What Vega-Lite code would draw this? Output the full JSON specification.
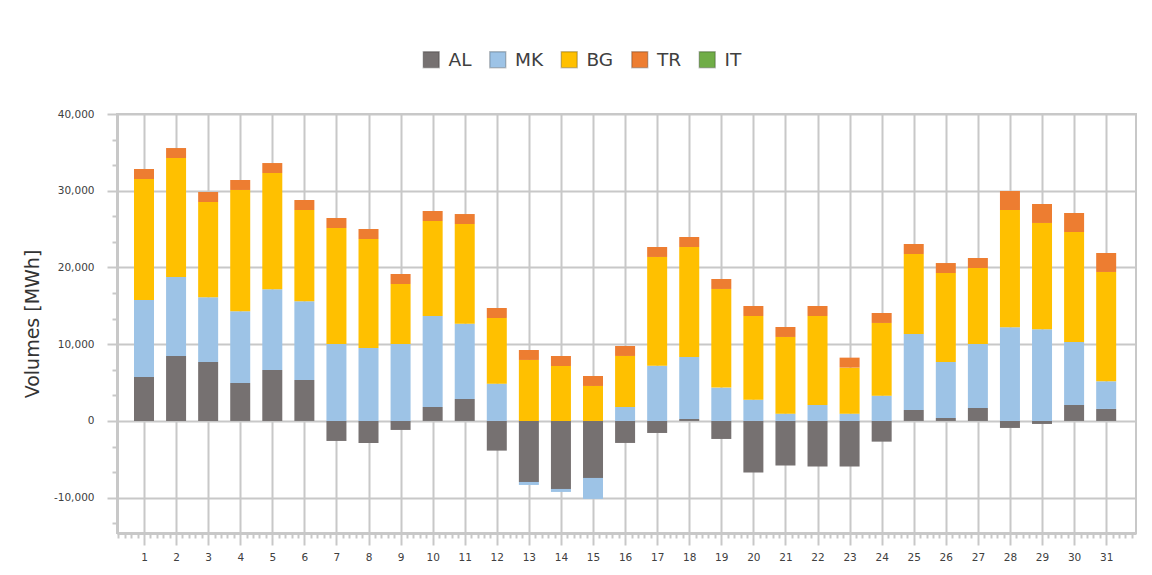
{
  "$schema": "https://vega.github.io/schema/vega-lite/v6.json",
  "width": 1019,
  "height": 419,
  "autosize": {"type": "none"},
  "padding": {"left": 117, "top": 114, "right": 16, "bottom": 42},
  "background": "white",
  "config": {
    "font": "DejaVu Sans",
    "view": {"stroke": "#c8c8c8", "strokeWidth": 2}
  },
  "data": {
    "values": [
      {"day": 1, "series": "AL", "value": 5730}, {"day": 1, "series": "MK", "value": 10035}, {"day": 1, "series": "BG", "value": 15765}, {"day": 1, "series": "TR", "value": 1300},
      {"day": 2, "series": "AL", "value": 8470}, {"day": 2, "series": "MK", "value": 10290}, {"day": 2, "series": "BG", "value": 15505}, {"day": 2, "series": "TR", "value": 1300},
      {"day": 3, "series": "AL", "value": 7690}, {"day": 3, "series": "MK", "value": 8425}, {"day": 3, "series": "BG", "value": 12420}, {"day": 3, "series": "TR", "value": 1300},
      {"day": 4, "series": "AL", "value": 4950}, {"day": 4, "series": "MK", "value": 9340}, {"day": 4, "series": "BG", "value": 15810}, {"day": 4, "series": "TR", "value": 1300},
      {"day": 5, "series": "AL", "value": 6645}, {"day": 5, "series": "MK", "value": 10510}, {"day": 5, "series": "BG", "value": 15155}, {"day": 5, "series": "TR", "value": 1300},
      {"day": 6, "series": "AL", "value": 5340}, {"day": 6, "series": "MK", "value": 10250}, {"day": 6, "series": "BG", "value": 11900}, {"day": 6, "series": "TR", "value": 1300},
      {"day": 7, "series": "AL", "value": -2605}, {"day": 7, "series": "MK", "value": 10030}, {"day": 7, "series": "BG", "value": 15115}, {"day": 7, "series": "TR", "value": 1300},
      {"day": 8, "series": "AL", "value": -2870}, {"day": 8, "series": "MK", "value": 9510}, {"day": 8, "series": "BG", "value": 14200}, {"day": 8, "series": "TR", "value": 1300},
      {"day": 9, "series": "AL", "value": -1170}, {"day": 9, "series": "MK", "value": 10030}, {"day": 9, "series": "BG", "value": 7820}, {"day": 9, "series": "TR", "value": 1300},
      {"day": 10, "series": "AL", "value": 1825}, {"day": 10, "series": "MK", "value": 11855}, {"day": 10, "series": "BG", "value": 12380}, {"day": 10, "series": "TR", "value": 1300},
      {"day": 11, "series": "AL", "value": 2865}, {"day": 11, "series": "MK", "value": 9815}, {"day": 11, "series": "BG", "value": 12985}, {"day": 11, "series": "TR", "value": 1300},
      {"day": 12, "series": "AL", "value": -3865}, {"day": 12, "series": "MK", "value": 4865}, {"day": 12, "series": "BG", "value": 8555}, {"day": 12, "series": "TR", "value": 1300},
      {"day": 13, "series": "AL", "value": -7950}, {"day": 13, "series": "MK", "value": -390}, {"day": 13, "series": "BG", "value": 7950}, {"day": 13, "series": "TR", "value": 1300},
      {"day": 14, "series": "AL", "value": -8860}, {"day": 14, "series": "MK", "value": -390}, {"day": 14, "series": "BG", "value": 7165}, {"day": 14, "series": "TR", "value": 1300},
      {"day": 15, "series": "AL", "value": -7425}, {"day": 15, "series": "MK", "value": -2735}, {"day": 15, "series": "BG", "value": 4560}, {"day": 15, "series": "TR", "value": 1300},
      {"day": 16, "series": "AL", "value": -2865}, {"day": 16, "series": "MK", "value": 1825}, {"day": 16, "series": "BG", "value": 6645}, {"day": 16, "series": "TR", "value": 1300},
      {"day": 17, "series": "AL", "value": -1565}, {"day": 17, "series": "MK", "value": 7210}, {"day": 17, "series": "BG", "value": 14160}, {"day": 17, "series": "TR", "value": 1300},
      {"day": 18, "series": "AL", "value": 260}, {"day": 18, "series": "MK", "value": 8080}, {"day": 18, "series": "BG", "value": 14330}, {"day": 18, "series": "TR", "value": 1300},
      {"day": 19, "series": "AL", "value": -2345}, {"day": 19, "series": "MK", "value": 4345}, {"day": 19, "series": "BG", "value": 12855}, {"day": 19, "series": "TR", "value": 1300},
      {"day": 20, "series": "AL", "value": -6730}, {"day": 20, "series": "MK", "value": 2780}, {"day": 20, "series": "BG", "value": 10900}, {"day": 20, "series": "TR", "value": 1300},
      {"day": 21, "series": "AL", "value": -5820}, {"day": 21, "series": "MK", "value": 955}, {"day": 21, "series": "BG", "value": 9990}, {"day": 21, "series": "TR", "value": 1300},
      {"day": 22, "series": "AL", "value": -5950}, {"day": 22, "series": "MK", "value": 2085}, {"day": 22, "series": "BG", "value": 11595}, {"day": 22, "series": "TR", "value": 1300},
      {"day": 23, "series": "AL", "value": -5950}, {"day": 23, "series": "MK", "value": 955}, {"day": 23, "series": "BG", "value": 5995}, {"day": 23, "series": "TR", "value": 1300},
      {"day": 24, "series": "AL", "value": -2695}, {"day": 24, "series": "MK", "value": 3300}, {"day": 24, "series": "BG", "value": 9470}, {"day": 24, "series": "TR", "value": 1300},
      {"day": 25, "series": "AL", "value": 1435}, {"day": 25, "series": "MK", "value": 9900}, {"day": 25, "series": "BG", "value": 10425}, {"day": 25, "series": "TR", "value": 1300},
      {"day": 26, "series": "AL", "value": 390}, {"day": 26, "series": "MK", "value": 7295}, {"day": 26, "series": "BG", "value": 11595}, {"day": 26, "series": "TR", "value": 1300},
      {"day": 27, "series": "AL", "value": 1695}, {"day": 27, "series": "MK", "value": 8340}, {"day": 27, "series": "BG", "value": 9900}, {"day": 27, "series": "TR", "value": 1300},
      {"day": 28, "series": "AL", "value": -910}, {"day": 28, "series": "MK", "value": 12205}, {"day": 28, "series": "BG", "value": 15285}, {"day": 28, "series": "TR", "value": 2475},
      {"day": 29, "series": "AL", "value": -390}, {"day": 29, "series": "MK", "value": 11945}, {"day": 29, "series": "BG", "value": 13855}, {"day": 29, "series": "TR", "value": 2475},
      {"day": 30, "series": "AL", "value": 2085}, {"day": 30, "series": "MK", "value": 8210}, {"day": 30, "series": "BG", "value": 14330}, {"day": 30, "series": "TR", "value": 2475},
      {"day": 31, "series": "AL", "value": 1565}, {"day": 31, "series": "MK", "value": 3605}, {"day": 31, "series": "BG", "value": 14245}, {"day": 31, "series": "TR", "value": 2475}
    ]
  },
  "transform": [
    {"calculate": "indexof(['AL', 'MK', 'BG', 'TR', 'IT'], datum.series)", "as": "stack_order"}
  ],
  "mark": {"type": "bar", "width": 20},
  "encoding": {
    "x": {
      "field": "day",
      "type": "quantitative",
      "scale": {"domain": [0.158, 31.93], "nice": false, "zero": false, "padding": 0},
      "axis": {
        "title": null,
        "tickCount": 160,
        "labelExpr": "abs(datum.value - round(datum.value)) < 0.001 ? format(round(datum.value), 'd') : ''",
        "labelOverlap": false,
        "labelFlush": false,
        "labelBound": false,
        "labelFontSize": 10.5,
        "labelColor": "#404040",
        "labelPadding": 7,
        "grid": true,
        "gridColor": "#c8c8c8",
        "gridWidth": 2,
        "gridOpacity": {"condition": {"test": "abs(datum.value - round(datum.value)) < 0.001", "value": 1}, "value": 0},
        "tickColor": "#c8c8c8",
        "tickWidth": 2,
        "tickSize": {"condition": {"test": "abs(datum.value - round(datum.value)) < 0.001", "value": 12}, "value": 5},
        "domainColor": "#c8c8c8",
        "domainWidth": 3
      }
    },
    "y": {
      "field": "value",
      "type": "quantitative",
      "stack": "zero",
      "scale": {"domain": [-14600, 40000], "nice": false},
      "axis": {
        "title": "Volumes [MWh]",
        "titleFontSize": 19,
        "titleFontWeight": "normal",
        "titleColor": "#333333",
        "titlePadding": 11,
        "values": [-13333.33, -10000, -6666.67, -3333.33, 0, 3333.33, 6666.67, 10000, 13333.33, 16666.67, 20000, 23333.33, 26666.67, 30000, 33333.33, 36666.67, 40000],
        "labelExpr": "abs(datum.value % 10000) < 1 ? replace(format(datum.value, ','), '−', '-') : ''",
        "labelOverlap": false,
        "labelFlush": false,
        "labelFontSize": 10.5,
        "labelColor": "#404040",
        "labelPadding": 13,
        "grid": true,
        "gridColor": "#c8c8c8",
        "gridWidth": 2,
        "gridOpacity": {"condition": {"test": "abs(datum.value % 10000) < 1", "value": 1}, "value": 0},
        "tickColor": "#c8c8c8",
        "tickWidth": 2,
        "tickSize": {"condition": {"test": "abs(datum.value % 10000) < 1", "value": 10}, "value": 5},
        "domainColor": "#c8c8c8",
        "domainWidth": 3
      }
    },
    "order": {"field": "stack_order", "type": "quantitative", "sort": "ascending"},
    "color": {
      "field": "series",
      "type": "nominal",
      "sort": ["AL", "MK", "BG", "TR", "IT"],
      "scale": {
        "domain": ["AL", "MK", "BG", "TR", "IT"],
        "range": ["#767171", "#9dc3e6", "#ffc000", "#ed7d31", "#70ad47"]
      },
      "legend": {
        "title": null,
        "orient": "none",
        "legendX": 305,
        "legendY": -64,
        "direction": "horizontal",
        "columns": 5,
        "padding": 0,
        "symbolType": "square",
        "symbolSize": 256,
        "labelFont": "DejaVu Sans",
        "labelFontSize": 18.5,
        "labelColor": "#404040",
        "labelOffset": 8,
        "columnPadding": 14.5,
        "encode": {
          "symbols": {"update": {"stroke": {"value": "rgba(0,0,0,0.22)"}, "strokeWidth": {"value": 1.5}}}
        }
      }
    }
  }
}
